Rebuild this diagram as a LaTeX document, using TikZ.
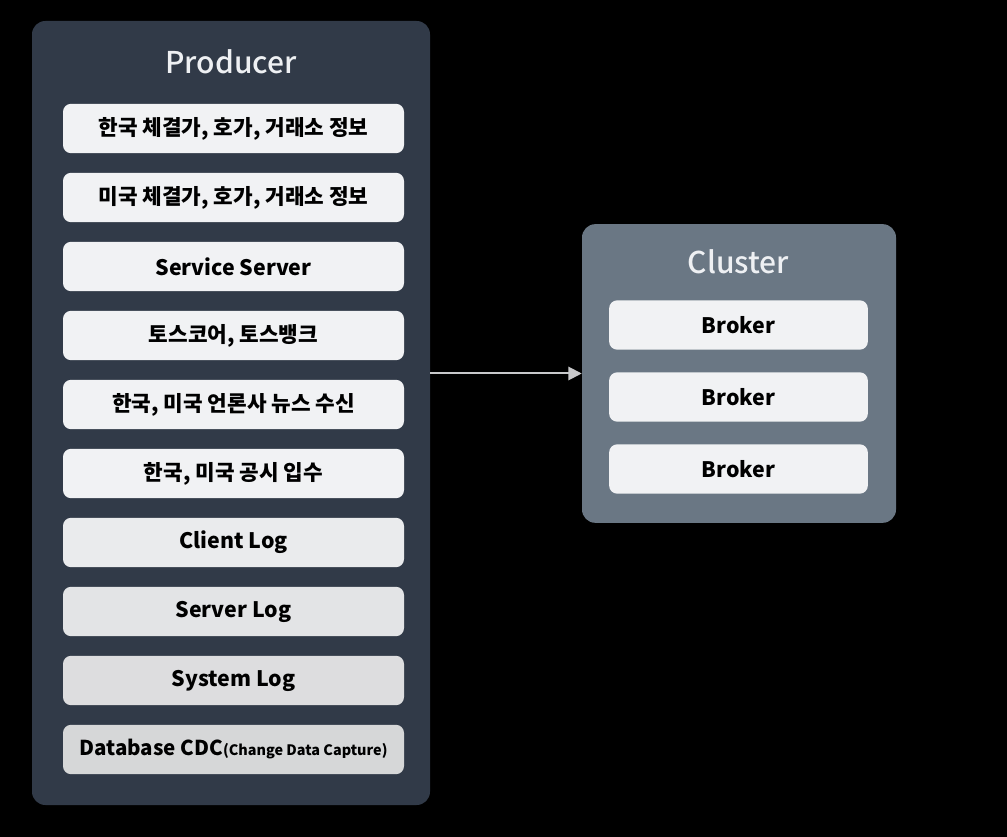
\documentclass[tikz,border=0pt]{standalone}
\usepackage{fontspec}
\setmainfont{Noto Sans CJK KR}
\newfontfamily\headfont{Noto Sans CJK KR Medium}
\usepackage{xcolor}
\usetikzlibrary{arrows.meta}

\definecolor{prodbg}{HTML}{313A48}
\definecolor{clusbg}{HTML}{6A7784}
\definecolor{boxbg}{HTML}{F1F2F4}
\definecolor{titlefg}{HTML}{EEF0F3}
\definecolor{arrowfg}{HTML}{C8C9CB}

\begin{document}
\begin{tikzpicture}[>={Triangle[length=10pt, width=10pt]}, x=0.75pt, y=-0.75pt,
  panel/.style={rounded corners=10pt, inner sep=0pt},
  item/.style={fill=boxbg, rounded corners=6pt, inner sep=0pt, text=black,
    minimum width=255.75pt, minimum height=37pt, font=\bfseries\fontsize{16}{19}\selectfont},
  title/.style={text=titlefg, font=\headfont\fontsize{22.5}{26}\selectfont}]
  \fill[black] (0,0) rectangle (1007,837);
  \useasboundingbox (0,0) rectangle (1007,837);
  \node[panel, fill=prodbg, minimum width=298.5pt, minimum height=588pt] (prod) at (231,413) {};
  \node[title] (prodtitle) at (231,62) {Producer};
  \node[item] (p1) at (233.5,128.5) {한국 체결가, 호가, 거래소 정보};
  \node[item] (p2) at (233.5,197.5) {미국 체결가, 호가, 거래소 정보};
  \node[item] (p3) at (233.5,266.5) {Service Server};
  \node[item] (p4) at (233.5,335.5) {토스코어, 토스뱅크};
  \node[item] (p5) at (233.5,404.5) {한국, 미국 언론사 뉴스 수신};
  \node[item] (p6) at (233.5,473.5) {한국, 미국 공시 입수};
  \node[item, fill=boxbg!94!gray] (p7) at (233.5,542.5) {Client Log};
  \node[item, fill=boxbg!88!gray] (p8) at (233.5,611.5) {Server Log};
  \node[item, fill=boxbg!82!gray] (p9) at (233.5,680.5) {System Log};
  \node[item, fill=boxbg!76!gray, font=\bfseries\fontsize{15.4}{18}\selectfont] (p10) at (233.5,749.5)
    {Database CDC{\fontsize{10.8}{13}\selectfont(Change Data Capture)}};
  \node[panel, fill=clusbg, minimum width=235.5pt, minimum height=224pt] (clus) at (739,373.5) {};
  \node[title] (clustitle) at (738.5,262) {Cluster};
  \node[item, minimum width=194pt] (b1) at (738.5,325) {Broker};
  \node[item, minimum width=194pt] (b2) at (738.5,397) {Broker};
  \node[item, minimum width=194pt] (b3) at (738.5,469) {Broker};
  \draw[->, arrowfg, line width=1.5pt] (prod.east |- clus.west) -- (clus.west);
\end{tikzpicture}
\end{document}
